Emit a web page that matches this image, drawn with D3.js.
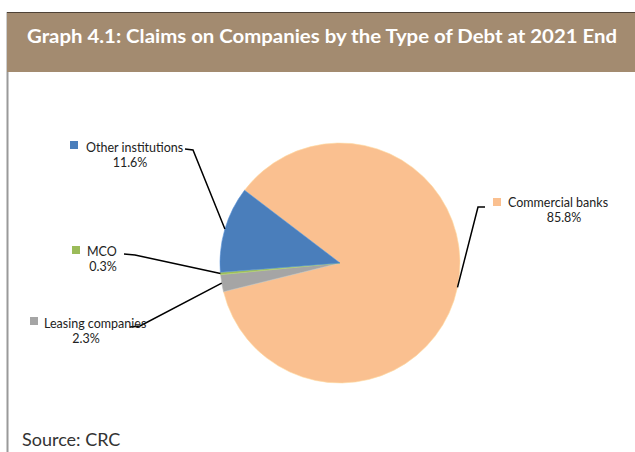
<!DOCTYPE html>
<html>
<head>
<meta charset="utf-8">
<script src="https://cdn.jsdelivr.net/npm/d3@7"></script>
<style>
  html, body { margin: 0; padding: 0; background: #fff; }
  svg { display: block; font-family: Lato, "Open Sans", sans-serif; }
</style>
</head>
<body>
<svg id="chart" width="635" height="452"></svg>
<script>
// Claims on companies by type of debt, share of total at end of 2021 (%)
const categories = ["Commercial banks", "Leasing companies", "MCO", "Other institutions"];
const shares = [85.8, 2.3, 0.3, 11.6];
const shareLabels = ["85.8%", "2.3%", "0.3%", "11.6%"];
const colors = ["#fac090", "#a5a5a5", "#9bbb59", "#4a7ebb"];

const titleText = "Graph 4.1: Claims on Companies by the Type of Debt at 2021 End";
const sourceText = "Source: CRC";

const svg = d3.select("#chart");

// frame: left rule and title band
svg.append("line").attr("x1", 7.5).attr("x2", 7.5).attr("y1", 12).attr("y2", 452)
  .attr("stroke", "#9a9a9a").attr("stroke-width", 2);
svg.append("rect").attr("x", 7).attr("y", 12).attr("width", 628).attr("height", 60)
  .attr("fill", "#a38b70");
svg.append("line").attr("x1", 7).attr("x2", 635).attr("y1", 12.5).attr("y2", 12.5)
  .attr("stroke", "#4e4236").attr("stroke-width", 1);
svg.append("text").attr("x", 27).attr("y", 43)
  .attr("fill", "#ffffff").attr("font-size", 19.5).attr("font-weight", 700)
  .attr("textLength", 590).attr("lengthAdjust", "spacingAndGlyphs")
  .text(titleText);

// pie
const cx = 340, cy = 263, radius = 120;
const startDeg = 307.3;
const pie = d3.pie().sort(null).value(d => d)
  .startAngle(startDeg * Math.PI / 180)
  .endAngle((startDeg + 360) * Math.PI / 180);
const arcs = pie(shares);
const arc = d3.arc().innerRadius(0).outerRadius(radius);

const g = svg.append("g").attr("transform", `translate(${cx},${cy})`);
g.selectAll("path.slice").data(arcs).enter().append("path")
  .attr("class", "slice")
  .attr("d", arc)
  .attr("fill", (d, i) => colors[i])
  .attr("stroke", (d, i) => d3.color(colors[i]).brighter(0.4))
  .attr("stroke-width", 0.6);

// data labels with leader lines
const labelPos = [
  { mx: 493, my: 198, tx: 508, ty: 207, px: 564, py: 221.5, line: [[485, 207], [478, 207]] },
  { mx: 30, my: 317, tx: 44, ty: 328, px: 86, py: 342.5, line: [[130, 327], [140, 326]] },
  { mx: 72, my: 246, tx: 87, ty: 256, px: 103, py: 270.5, line: [[124, 254], [135, 255]] },
  { mx: 70, my: 141, tx: 86, ty: 152, px: 130, py: 166.5, line: [[185, 149], [193, 150]] }
];

const lbl = svg.append("g");
arcs.forEach((a, i) => {
  const p = labelPos[i];
  // leader line ends on the slice's outer edge, at its mid angle
  const mid = (a.startAngle + a.endAngle) / 2;
  const ex = cx + radius * Math.sin(mid);
  const ey = cy - radius * Math.cos(mid);
  const pts = [...p.line, [ex, ey]];
  lbl.append("path").attr("d", d3.line()(pts))
    .attr("fill", "none").attr("stroke", "#000").attr("stroke-width", 1.5);
  lbl.append("rect").attr("x", p.mx).attr("y", p.my).attr("width", 8).attr("height", 8)
    .attr("fill", colors[i]);
  lbl.append("text").attr("x", p.tx).attr("y", p.ty)
    .attr("font-size", 12.5).attr("fill", "#222").text(categories[i]);
  lbl.append("text").attr("x", p.px).attr("y", p.py).attr("text-anchor", "middle")
    .attr("font-size", 12.5).attr("fill", "#222").text(shareLabels[i]);
});

svg.append("text").attr("x", 22).attr("y", 446)
  .attr("font-size", 18).attr("fill", "#333").text(sourceText);
</script>
</body>
</html>
